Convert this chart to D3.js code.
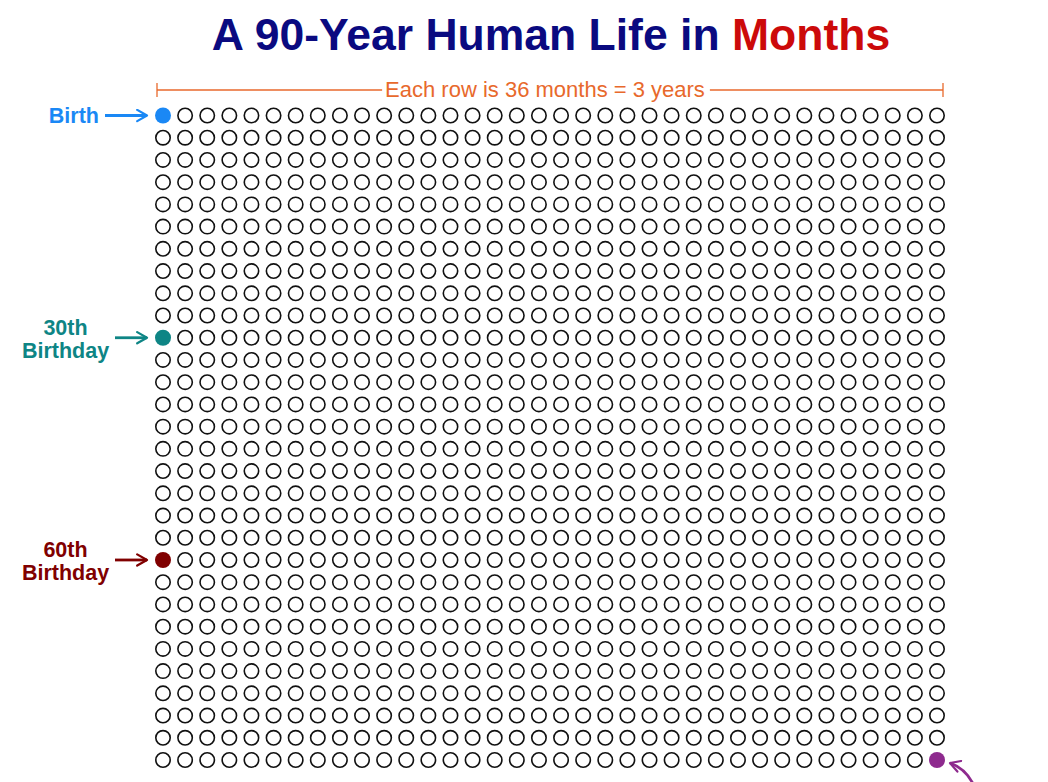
<!DOCTYPE html>
<html lang="en">
<head>
    <meta charset="UTF-8">
    <title>A 90-Year Human Life in Months</title>
    <script src="https://d3js.org/d3.v7.min.js"></script>
    <style>
        body {background:#fff; margin:0}
        svg {display:block; font-family:"Liberation Sans", Arial, Helvetica, sans-serif}
    </style>
</head>
<body>
<svg id="chart" width="1048" height="782"></svg>

<script>
// grid: each row is 36 months, 30 rows = 90 years
var nCols = 36;
var nRows = 30;
// milestones: row/col of the month, label lines, colour
var milestones = [
    {"name": "birth", "row": 0, "col": 0, "lines": ["Birth"], "color": "#1a88f5"},
    {"name": "30th", "row": 10, "col": 0, "lines": ["30th", "Birthday"], "color": "#0e8585"},
    {"name": "60th", "row": 20, "col": 0, "lines": ["60th", "Birthday"], "color": "#800000"},
    {"name": "end", "row": 29, "col": 35, "lines": [], "color": "#8e2a8e"}
];
var titleParts = [
    {"text": "A 90-Year Human Life in ", "color": "#0a0a80"},
    {"text": "Months", "color": "#cc0a0a"}
];
var subtitle = "Each row is 36 months = 3 years";

var svg = d3.select("#chart");

var x = d3.scaleLinear().domain([0, nCols - 1]).range([163, 937]);
var y = d3.scaleLinear().domain([0, nRows - 1]).range([115.5, 760]);

// title
svg.append("text")
    .attr("x", 551)
    .attr("y", 50)
    .attr("text-anchor", "middle")
    .attr("font-size", "44.5px")
    .attr("font-weight", "bold")
    .selectAll("tspan")
    .data(titleParts)
    .enter()
    .append("tspan")
    .attr("fill", function(d){ return d.color; })
    .text(function(d){ return d.text; });

// bracket with subtitle
var orange = "#e8692c";
var bx0 = x(0) - 6, bx1 = x(nCols - 1) + 6, by = 90;
var sub = svg.append("text")
    .attr("x", 545)
    .attr("y", 97)
    .attr("text-anchor", "middle")
    .attr("font-size", "22px")
    .attr("fill", orange)
    .text(subtitle);
var bb = sub.node().getBBox();
var bracket = svg.append("g").attr("stroke", orange).attr("stroke-width", 1.3);
bracket.append("line").attr("x1", bx0).attr("x2", bb.x - 3).attr("y1", by).attr("y2", by);
bracket.append("line").attr("x1", bb.x + bb.width + 5).attr("x2", bx1).attr("y1", by).attr("y2", by);
bracket.append("line").attr("x1", bx0).attr("x2", bx0).attr("y1", by - 7).attr("y2", by + 7);
bracket.append("line").attr("x1", bx1).attr("x2", bx1).attr("y1", by - 7).attr("y2", by + 7);

// month circles
var cells = d3.cross(d3.range(nRows), d3.range(nCols));
function milestoneFor(r, c){
    for (var i = 0; i < milestones.length; i++){
        if (milestones[i].row == r && milestones[i].col == c) return milestones[i];
    }
    return null;
}
svg.append("g")
    .selectAll("circle")
    .data(cells)
    .enter()
    .append("circle")
    .attr("cx", function(d){ return x(d[1]); })
    .attr("cy", function(d){ return y(d[0]); })
    .attr("r", function(d){ return milestoneFor(d[0], d[1]) ? 8 : 7.2; })
    .attr("fill", function(d){
        var m = milestoneFor(d[0], d[1]);
        return m ? m.color : "#fff";
    })
    .attr("stroke", function(d){ return milestoneFor(d[0], d[1]) ? "none" : "#111"; })
    .attr("stroke-width", 1.6);

// arrow markers
var defs = svg.append("defs");
milestones.forEach(function(m){
    defs.append("marker")
        .attr("id", "arrow-" + m.name)
        .attr("viewBox", "0 0 10 10")
        .attr("refX", 8)
        .attr("refY", 5)
        .attr("markerWidth", 5)
        .attr("markerHeight", 5)
        .attr("markerUnits", "strokeWidth")
        .attr("orient", "auto")
        .append("path")
        .attr("d", "M1,1 L8,5 L1,9")
        .attr("fill", "none")
        .attr("stroke", m.color)
        .attr("stroke-width", 1.6)
        .attr("stroke-linecap", "round")
        .attr("stroke-linejoin", "round");
});

// labels + arrows for left milestones
milestones.filter(function(m){ return m.col == 0; }).forEach(function(m){
    var cy = y(m.row);
    var single = m.lines.length == 1;
    var t = svg.append("text")
        .attr("font-size", "21.5px")
        .attr("font-weight", "bold")
        .attr("fill", m.color)
        .attr("text-anchor", single ? "end" : "middle");
    m.lines.forEach(function(line, i){
        t.append("tspan")
            .attr("x", single ? 99 : 65.5)
            .attr("y", single ? cy + 7.5 : cy - 3 + i * 23.5)
            .text(line);
    });
    svg.append("line")
        .attr("x1", single ? 105 : 115)
        .attr("x2", x(0) - 16)
        .attr("y1", cy)
        .attr("y2", cy)
        .attr("stroke", m.color)
        .attr("stroke-width", 2.8)
        .attr("marker-end", "url(#arrow-" + m.name + ")");
});

// curved arrow to the last month
var last = milestones[milestones.length - 1];
svg.append("path")
    .attr("d", "M" + (x(last.col) + 38) + "," + (y(last.row) + 28) +
        " Q" + (x(last.col) + 30) + "," + (y(last.row) + 9) +
        " " + (x(last.col) + 13) + "," + (y(last.row) + 3))
    .attr("fill", "none")
    .attr("stroke", last.color)
    .attr("stroke-width", 2.8)
    .attr("marker-end", "url(#arrow-end)");
</script>
</body>
</html>
